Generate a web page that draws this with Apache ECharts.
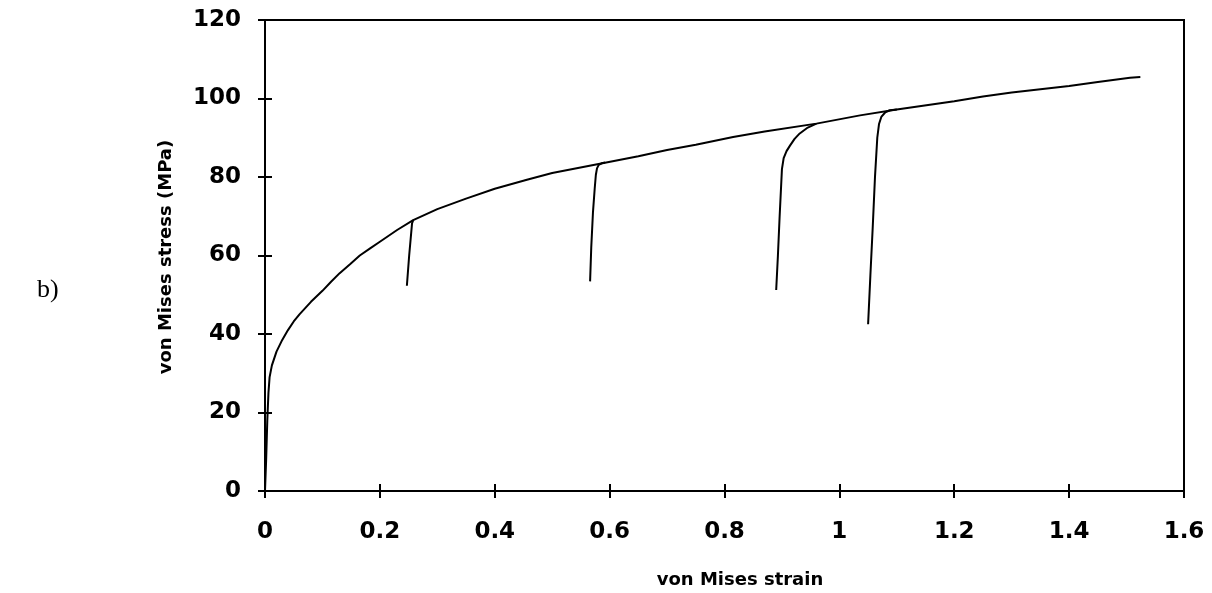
<!DOCTYPE html>
<html>
<head>
<meta charset="utf-8">
<script src="https://cdn.jsdelivr.net/npm/echarts@6/dist/echarts.min.js"></script>
<style>
html,body{margin:0;padding:0;background:#fff;}
#chart{width:1212px;height:593px;}
</style>
</head>
<body>
<div id="chart"></div>
<script>
// Main loading curve (von Mises strain, von Mises stress MPa)
const mainStrain = [0, 0.002, 0.004, 0.006, 0.008, 0.012, 0.02, 0.03, 0.04, 0.05, 0.06, 0.08, 0.1, 0.115, 0.13, 0.148, 0.165, 0.183, 0.2, 0.23, 0.258, 0.3, 0.35, 0.4, 0.456, 0.5, 0.583, 0.65, 0.7, 0.75, 0.815, 0.87, 0.96, 1.036, 1.1, 1.2, 1.25, 1.3, 1.4, 1.45, 1.506, 1.524];
const mainStress = [0, 8, 18, 25, 29, 32, 35.5, 38.5, 41, 43.2, 45, 48.2, 51, 53.3, 55.5, 57.8, 60, 61.8, 63.5, 66.5, 69, 71.8, 74.5, 77, 79.3, 81, 83.4, 85.3, 86.9, 88.2, 90.2, 91.6, 93.6, 95.7, 97.2, 99.3, 100.5, 101.5, 103.2, 104.2, 105.3, 105.5];
// Unloading / reloading branches
const branch1Strain = [0.247, 0.251, 0.256, 0.258];
const branch1Stress = [52.3, 60, 68.2, 69];
const branch2Strain = [0.566, 0.568, 0.571, 0.574, 0.576, 0.578, 0.581, 0.586, 0.592];
const branch2Stress = [53.4, 62, 71, 77, 80.5, 82.2, 83.1, 83.5, 83.7];
const branch3Strain = [0.890, 0.893, 0.896, 0.900, 0.903, 0.908, 0.914, 0.922, 0.931, 0.945, 0.960];
const branch3Stress = [51.2, 60, 70, 82.0, 84.8, 86.6, 88.0, 89.7, 91.1, 92.6, 93.6];
const branch4Strain = [1.050, 1.054, 1.058, 1.062, 1.066, 1.069, 1.073, 1.080, 1.088, 1.1];
const branch4Stress = [42.5, 55, 67, 80, 90, 93.5, 95.3, 96.5, 97.0, 97.2];

const xTickMin = 0, xTickMax = 1.6, xTickStep = 0.2;
const yTickMin = 0, yTickMax = 120, yTickStep = 20;

function pairs(xs, ys){ return xs.map((x,i)=>[x, ys[i]]); }

const chart = echarts.init(document.getElementById('chart'), null, {renderer:'canvas'});
const FONT = '"DejaVu Sans", Verdana, sans-serif';
const lineSeries = (data) => ({
  type:'line', data, showSymbol:false, symbol:'none', smooth:false,
  lineStyle:{color:'#000', width:2}, silent:true, xAxisIndex:0, yAxisIndex:0
});

chart.setOption({
  animation:false,
  backgroundColor:'#fff',
  grid:{left:265, top:20, right:28, bottom:102, show:true, borderColor:'#000', borderWidth:2, backgroundColor:'transparent'},
  graphic:[
    {type:'text', x:37, y:277, style:{text:'b)', font:'26px "Liberation Serif", "DejaVu Serif", serif', fill:'#000'}},
    {type:'text', x:740, y:580, style:{text:'von Mises strain', font:'bold 18px "DejaVu Sans", Verdana, sans-serif', fill:'#000', align:'center', verticalAlign:'middle'}},
    {type:'text', x:166, y:257, rotation:Math.PI/2, style:{text:'von Mises stress (MPa)', font:'bold 18px "DejaVu Sans", Verdana, sans-serif', fill:'#000', align:'center', verticalAlign:'middle'}}
  ],
  xAxis:[
    {type:'value', min:xTickMin, max:xTickMax, interval:xTickStep, position:'bottom',
     axisLine:{show:true, lineStyle:{color:'#000', width:2}},
     axisTick:{show:true, inside:false, length:7, lineStyle:{color:'#000', width:2}},
     axisLabel:{fontFamily:FONT, fontSize:23, fontWeight:'bold', color:'#000', margin:30},
     splitLine:{show:false}},
    {type:'value', min:xTickMin, max:xTickMax, interval:xTickStep, position:'bottom',
     axisLine:{show:false},
     axisTick:{show:true, inside:true, length:7, lineStyle:{color:'#000', width:2}},
     axisLabel:{show:false}, splitLine:{show:false}}
  ],
  yAxis:[
    {type:'value', min:yTickMin, max:yTickMax, interval:yTickStep, position:'left',
     axisLine:{show:true, lineStyle:{color:'#000', width:2}},
     axisTick:{show:true, inside:false, length:7, lineStyle:{color:'#000', width:2}},
     axisLabel:{fontFamily:FONT, fontSize:23, fontWeight:'bold', color:'#000', margin:24},
     splitLine:{show:false}},
    {type:'value', min:yTickMin, max:yTickMax, interval:yTickStep, position:'left',
     axisLine:{show:false},
     axisTick:{show:true, inside:true, length:7, lineStyle:{color:'#000', width:2}},
     axisLabel:{show:false}, splitLine:{show:false}}
  ],
  series:[
    lineSeries(pairs(mainStrain, mainStress)),
    lineSeries(pairs(branch1Strain, branch1Stress)),
    lineSeries(pairs(branch2Strain, branch2Stress)),
    lineSeries(pairs(branch3Strain, branch3Stress)),
    lineSeries(pairs(branch4Strain, branch4Stress))
  ]
});
</script>
</body>
</html>
